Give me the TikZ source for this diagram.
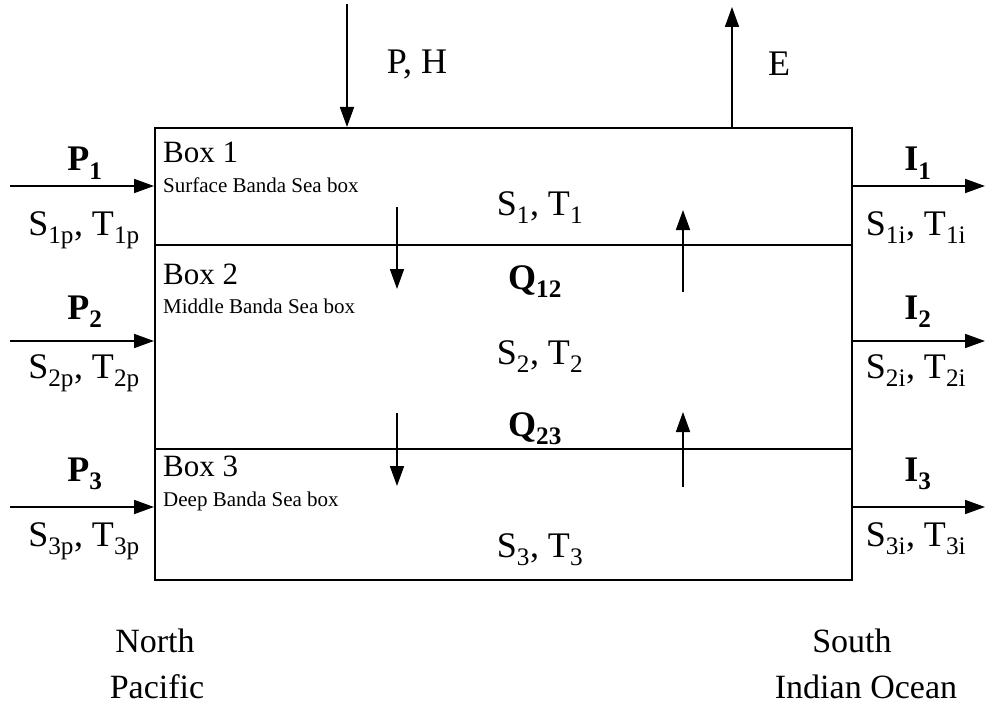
\documentclass[tikz,border=0pt]{standalone}
\usepackage{fontspec}
\setmainfont{Liberation Serif}
\usetikzlibrary{arrows.meta}
\begin{document}
\begin{tikzpicture}[x=1pt,y=-1pt,
  flow/.style={line width=1.7pt,-{Triangle[length=20pt,width=14pt]}},
  wall/.style={line width=2.2pt},
  big/.style={font=\fontsize{36}{40}\selectfont,anchor=base,inner sep=0pt},
  lab/.style={font=\fontsize{31}{35}\selectfont,anchor=base west,inner sep=0pt},
  sub/.style={font=\fontsize{21}{24}\selectfont,anchor=base west,inner sep=0pt},
  region/.style={font=\fontsize{34}{40}\selectfont,anchor=base,inner sep=0pt}]
\useasboundingbox (0,0) rectangle (985,706);

% the three stacked boxes
\draw[wall] (155,128) rectangle (852,580);
\draw[wall] (155,245) -- (852,245);
\draw[wall] (155,449) -- (852,449);

\node[lab] (b1) at (163,163) {Box 1};
\node[sub] (d1) at (163,192) {Surface Banda Sea box};
\node[lab] (b2) at (163,284) {Box 2};
\node[sub] (d2) at (163,313) {Middle Banda Sea box};
\node[lab] (b3) at (163,476) {Box 3};
\node[sub] (d3) at (163,506) {Deep Banda Sea box};

\node[big] (st1) at (540,215) {S\textsubscript{1}, T\textsubscript{1}};
\node[big] (st2) at (540,364) {S\textsubscript{2}, T\textsubscript{2}};
\node[big] (st3) at (540,557) {S\textsubscript{3}, T\textsubscript{3}};
\node[big] (q12) at (535,289) {\textbf{Q\textsubscript{12}}};
\node[big] (q23) at (535,436) {\textbf{Q\textsubscript{23}}};

% vertical exchange between boxes
\coordinate (a1s) at (397,207); \coordinate (a1e) at (397,289);
\coordinate (a2s) at (683,292); \coordinate (a2e) at (683,210);
\coordinate (a3s) at (397,413); \coordinate (a3e) at (397,486);
\coordinate (a4s) at (683,487); \coordinate (a4e) at (683,412);
\draw[flow] (a1s) -- (a1e);
\draw[flow] (a2s) -- (a2e);
\draw[flow] (a3s) -- (a3e);
\draw[flow] (a4s) -- (a4e);

% surface fluxes
\coordinate (phs) at (347,4); \coordinate (phe) at (347,127);
\coordinate (es) at (732,127); \coordinate (ee) at (732,7);
\draw[flow] (phs) -- (phe);
\draw[flow] (es) -- (ee);
\node[big] (ph) at (417,74) {P, H};
\node[big] (e) at (779,76) {E};

% lateral inflow from the Pacific and outflow to the Indian Ocean
\foreach \i/\y/\ty/\by in {1/186/171/235, 2/341/319/378, 3/507/481/546} {
  \coordinate (pin\i) at (10,\y);
  \coordinate (pout\i) at (154,\y);
  \draw[flow] (pin\i) -- (pout\i);
  \node[big] (p\i) at (85,\ty) {\textbf{P\textsubscript{\i}}};
  \node[big] (sp\i) at (84,\by) {S\textsubscript{\i p}, T\textsubscript{\i p}};
  \coordinate (iin\i) at (853,\y);
  \coordinate (iout\i) at (985,\y);
  \draw[flow] (iin\i) -- (iout\i);
  \node[big] (ii\i) at (918,\ty) {\textbf{I\textsubscript{\i}}};
  \node[big] (si\i) at (916,\by) {S\textsubscript{\i i}, T\textsubscript{\i i}};
}

\node[region] (np1) at (155,652) {North};
\node[region] (np2) at (157,698) {Pacific};
\node[region] (si1) at (852,652) {South};
\node[region] (si2) at (866,698) {Indian Ocean};
\end{tikzpicture}
\end{document}
